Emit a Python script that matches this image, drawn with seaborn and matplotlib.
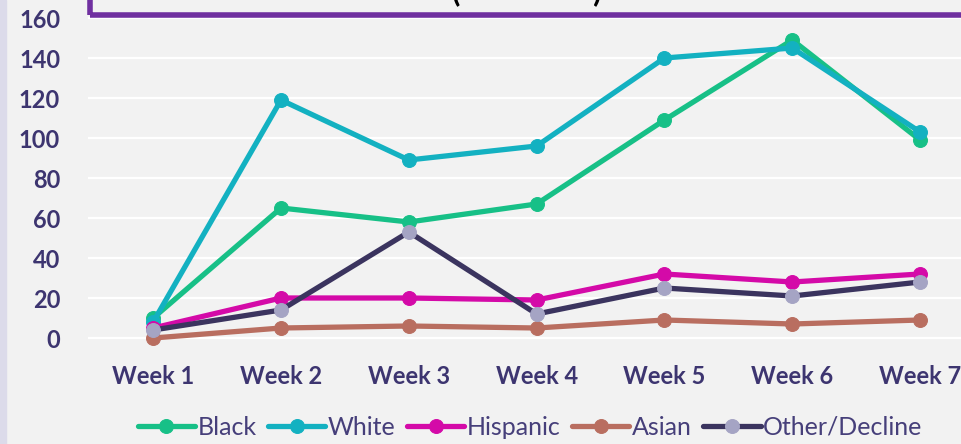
import pandas as pd
import matplotlib.pyplot as plt
import seaborn as sns

weeks = ['Week 1', 'Week 2', 'Week 3', 'Week 4', 'Week 5', 'Week 6', 'Week 7']
black = [10, 65, 58, 67, 109, 149, 99]
white = [8, 119, 89, 96, 140, 145, 103]
hispanic = [5, 20, 20, 19, 32, 28, 32]
asian = [0, 5, 6, 5, 9, 7, 9]
other = [4, 14, 53, 12, 25, 21, 28]

series = {'Black': black, 'White': white, 'Hispanic': hispanic,
          'Asian': asian, 'Other/Decline': other}
colors = {'Black': '#17c087', 'White': '#13b1c1', 'Hispanic': '#d40aa8',
          'Asian': '#b96e60', 'Other/Decline': '#3b345f'}
marker_colors = {'Other/Decline': '#a5a4c4'}

sns.set_theme(style='white')
plt.rcParams['font.family'] = ['Lato', 'DejaVu Sans']

bg = '#f2f2f2'
txt = '#3d3570'

fig = plt.figure(figsize=(9.61, 4.44), dpi=100, facecolor=bg)
# lavender strip on the left
fig.patches.append(plt.Rectangle((0, 0), 6 / 961, 1, transform=fig.transFigure,
                                  color='#dcdbea', zorder=0))

ax = fig.add_axes([88 / 961, (444 - 350) / 444, (961 - 88) / 961, 350 / 444])
ax.set_facecolor(bg)

for name, vals in series.items():
    df = pd.DataFrame({'week': weeks, 'value': vals})
    mc = marker_colors.get(name, colors[name])
    sns.lineplot(data=df, x='week', y='value', ax=ax, color=colors[name],
                 linewidth=3.8, marker='o', markersize=10,
                 markerfacecolor=mc, markeredgecolor=mc, label=name)

ax.set_xlim(-0.51, 6.32)
ax.set_ylim(-6, 169)
ax.set_yticks(range(0, 161, 20))
ax.grid(axis='y', color='white', linewidth=1.6)
ax.set_axisbelow(True)
for s in ax.spines.values():
    s.set_visible(False)
ax.set_xlabel('')
ax.set_ylabel('')
ax.tick_params(axis='y', length=0, pad=20, labelsize=17, labelcolor=txt)
ax.tick_params(axis='x', length=0, pad=11, labelsize=17, labelcolor=txt)
for lab in ax.get_xticklabels() + ax.get_yticklabels():
    lab.set_fontweight('bold')

leg = ax.legend(loc='center', bbox_to_anchor=(530 / 961, (444 - 427) / 444),
                bbox_transform=fig.transFigure, ncol=5, frameon=False,
                handlelength=2.3, handletextpad=0.1, columnspacing=0.45,
                fontsize=18, borderaxespad=0)
for t in leg.get_texts():
    t.set_color('#463f7a')

# title box, cut off at the top
fig.patches.append(plt.Rectangle((90 / 961, (444 - 15) / 444), 1, 0.2,
                                  transform=fig.transFigure, fill=False,
                                  edgecolor='#7030a0', linewidth=4, zorder=5))
fig.text(527 / 961, (444 + 8) / 444, '(                  )', ha='center', va='center',
         fontsize=22, fontweight='bold', color='black')

fig.savefig('out.png', dpi=100, facecolor=bg)
